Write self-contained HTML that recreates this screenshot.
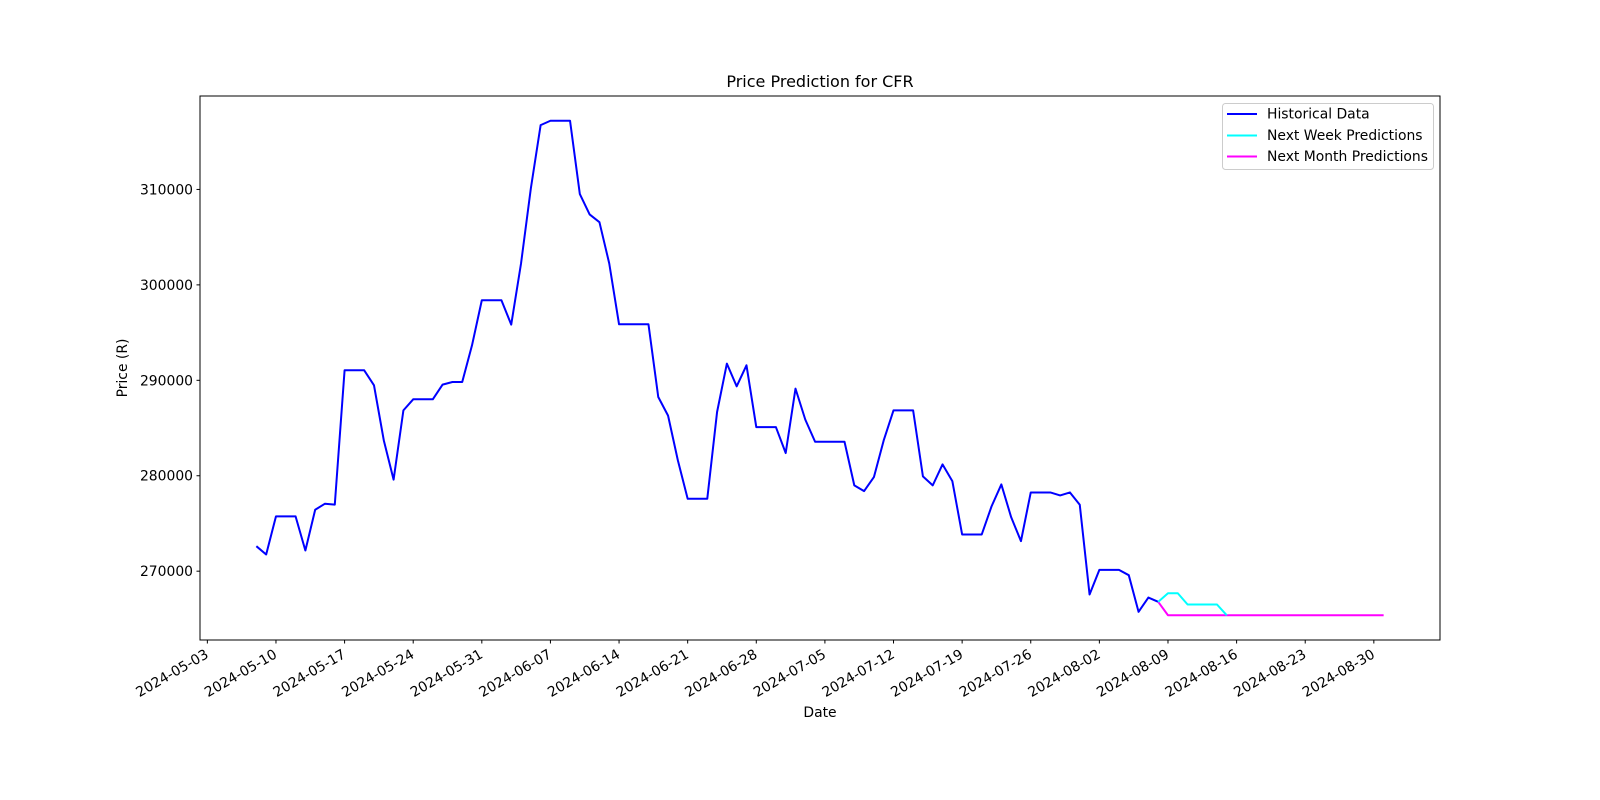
<!DOCTYPE html>
<html><head><meta charset="utf-8"><style>
html,body{margin:0;padding:0;background:#fff;}
svg{display:block;font-family:"DejaVu Sans","Liberation Sans",sans-serif;}
</style></head><body>
<svg id="chart" width="1600" height="800" viewBox="0 0 1600 800" xmlns="http://www.w3.org/2000/svg">
<rect width="1600" height="800" fill="#fff"/>
<text x="820" y="87" font-size="16" text-anchor="middle" fill="#000">Price Prediction for CFR</text>
<g id="grid"></g>
<g id="lines"></g>
<rect x="200" y="96" width="1240" height="544" fill="none" stroke="#000" stroke-width="1"/>
<g id="axes"></g>
<text x="820" y="717" font-size="13.9" text-anchor="middle">Date</text>
<text transform="translate(127,368) rotate(-90)" font-size="13.9" text-anchor="middle">Price (R)</text>
<g>
<rect x="1222.5" y="103.5" width="211" height="66" rx="3" fill="#fff" fill-opacity="0.8" stroke="#ccc"/>
<g><line x1="1227" y1="114" x2="1257" y2="114" stroke="#0000ff" stroke-width="2"/><text x="1267" y="118.5" font-size="13.9">Historical Data</text></g>
<g><line x1="1227" y1="135.5" x2="1257" y2="135.5" stroke="#00ffff" stroke-width="2"/><text x="1267" y="140" font-size="13.9">Next Week Predictions</text></g>
<g><line x1="1227" y1="156.5" x2="1257" y2="156.5" stroke="#ff00ff" stroke-width="2"/><text x="1267" y="161" font-size="13.9">Next Month Predictions</text></g>
</g>
</svg>
<script>
const histStart = "2024-05-08";
const histValues = [272620,271750,275740,275740,275740,272170,276440,277070,276970,291050,
291050,291050,289480,283710,279590,286850,288010,288010,288010,289550,
289820,289820,293670,298390,298390,298390,295840,302240,310100,316740,
317200,317200,317200,309510,307380,306570,302240,295870,295870,295870,
295870,288250,286300,281610,277590,277590,277590,286680,291750,289370,
291570,285100,285100,285100,282380,289130,285880,283560,283560,283560,
283560,278990,278390,279860,283710,286850,286850,286850,279930,278990,
281190,279440,273850,273850,273850,276790,279090,275660,273150,278250,
278250,278250,277940,278250,276960,267560,270140,270140,270140,269580,
265740,267240,266790];
const weekStart = "2024-08-09";
const weekValues = [267690,267690,266510,266510,266510,266510,265380];
const monthStart = "2024-08-09";
const monthValues = [265380,265380,265380,265380,265380,265380,265380,265380,265380,265380,
265380,265380,265380,265380,265380,265380,265380,265380,265380,265380,265380,265380,265380];
const yTicks = [270000,280000,290000,300000,310000];
const xTickLabels = ["2024-05-03","2024-05-10","2024-05-17","2024-05-24","2024-05-31","2024-06-07","2024-06-14","2024-06-21","2024-06-28","2024-07-05","2024-07-12","2024-07-19","2024-07-26","2024-08-02","2024-08-09","2024-08-16","2024-08-23","2024-08-30"];

const NS="http://www.w3.org/2000/svg";
const DAY=86400000;
const dnum=s=>Date.UTC(+s.slice(0,4),+s.slice(5,7)-1,+s.slice(8,10))/DAY;
const L=200,R=1440,T=96,B=640;
const hs=dnum(histStart), ws=dnum(weekStart), ms=dnum(monthStart);
const allX=[hs,hs+histValues.length-1,ws+weekValues.length-1,ms+monthValues.length-1];
const allY=histValues.concat(weekValues,monthValues);
let x0=Math.min(...allX),x1=Math.max(...allX);
let y0=Math.min(...allY),y1=Math.max(...allY);
const mx=(x1-x0)*0.05,my=(y1-y0)*0.05;
x0-=mx;x1+=mx;y0-=my;y1+=my;
const X=d=>L+(d-x0)/(x1-x0)*(R-L);
const Y=v=>B-(v-y0)/(y1-y0)*(B-T);
function mk(tag,attrs,parent){const e=document.createElementNS(NS,tag);for(const k in attrs)e.setAttribute(k,attrs[k]);parent.appendChild(e);return e;}
const axes=document.getElementById('axes'), lines=document.getElementById('lines');
yTicks.forEach(v=>{
  const y=Y(v);
  const t=mk('line',{x1:L-3.5,x2:L,y1:y,y2:y,stroke:'#000'},axes);
  
  
  const tx=mk('text',{x:L-7,y:y+5,'font-size':13.9,'text-anchor':'end'},axes);
  tx.textContent=v;
  
  
});
xTickLabels.forEach(s=>{
  const x=X(dnum(s));
  const t=mk('line',{x1:x,x2:x,y1:B,y2:B+3.5,stroke:'#000'},axes);
  
  
  const tx=mk('text',{transform:`translate(${x+2},${B+17}) rotate(-30)`,'font-size':13.9,'text-anchor':'end'},axes);
  tx.textContent=s;
  
  
});
function series(start,vals,color,name,prefix){
  let pts=[];
  if(prefix) pts.push([X(hs+histValues.length-1),Y(histValues[histValues.length-1])]);
  vals.forEach((v,i)=>pts.push([X(start+i),Y(v)]));
  const p=mk('polyline',{points:pts.map(p=>p.join(',')).join(' '),fill:'none',stroke:color,'stroke-width':2,'stroke-linejoin':'round'},lines);
  
  
}
series(hs,histValues,'#0000ff','historical-data-line',false);
series(ms,monthValues,'#ff00ff','next-month-predictions-line',true);
series(ws,weekValues,'#00ffff','next-week-predictions-line',true);
</script>
</body></html>
